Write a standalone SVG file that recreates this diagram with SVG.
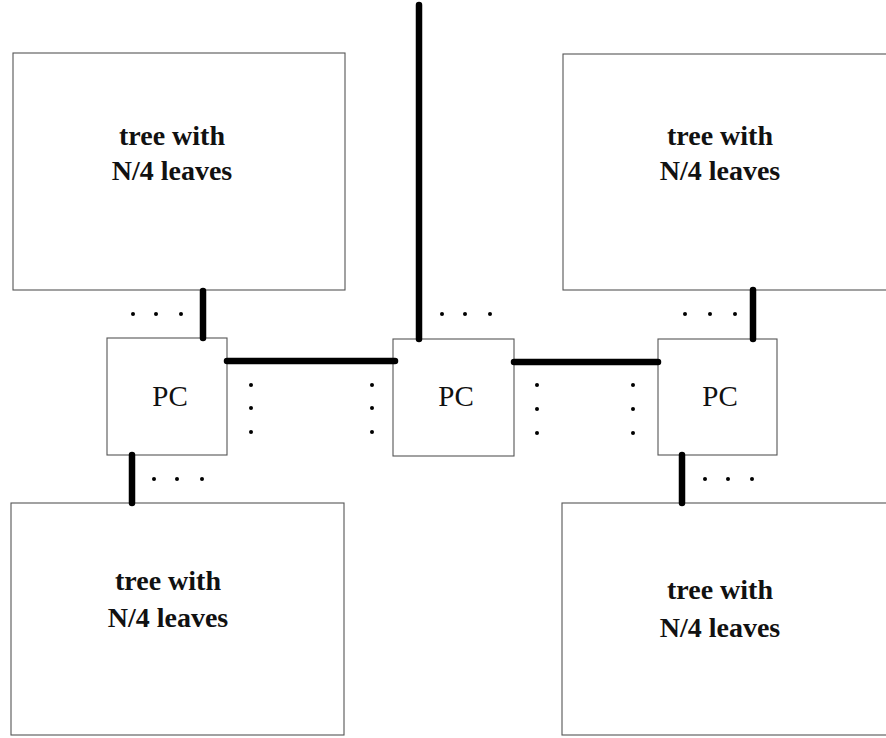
<svg xmlns="http://www.w3.org/2000/svg" width="886" height="738" viewBox="0 0 886 738">
<style>
.box{fill:none;stroke:#555;stroke-width:1.1}
.t{font-family:"Liberation Serif",serif;font-size:28px;font-weight:bold;text-anchor:middle;fill:#111}
.pc{font-family:"Liberation Serif",serif;font-size:29px;text-anchor:middle;fill:#111}
.w{stroke:#000;stroke-width:6.5;stroke-linecap:round;fill:none}
.d{fill:#000}
</style>
<rect width="886" height="738" fill="#fff"/>
<g id="tree-tl"><rect class="box" x="13" y="53" width="332" height="237"/><text class="t" x="172" y="145">tree with</text><text class="t" x="172" y="180">N/4 leaves</text></g>
<g id="tree-tr"><rect class="box" x="563" y="54" width="340" height="236"/><text class="t" x="720" y="145">tree with</text><text class="t" x="720" y="180">N/4 leaves</text></g>
<g id="tree-bl"><rect class="box" x="11" y="503" width="333" height="232"/><text class="t" x="168" y="590">tree with</text><text class="t" x="168" y="627">N/4 leaves</text></g>
<g id="tree-br"><rect class="box" x="562" y="503" width="340" height="232"/><text class="t" x="720" y="599">tree with</text><text class="t" x="720" y="637">N/4 leaves</text></g>
<g id="pc-left"><rect class="box" x="107" y="338" width="120" height="117"/><text class="pc" x="170" y="406">PC</text></g>
<g id="pc-center"><rect class="box" x="393" y="339" width="121" height="117"/><text class="pc" x="456" y="406">PC</text></g>
<g id="pc-right"><rect class="box" x="658" y="339" width="119" height="116"/><text class="pc" x="720" y="406">PC</text></g>
<g id="connectors">
<line class="w" x1="203" y1="291" x2="203" y2="338"/>
<line class="w" x1="132" y1="455" x2="132" y2="503"/>
<line class="w" x1="227" y1="361" x2="395" y2="361"/>
<line class="w" x1="419" y1="5" x2="419" y2="339"/>
<line class="w" x1="514" y1="362" x2="658" y2="362"/>
<line class="w" x1="753" y1="290" x2="753" y2="339"/>
<line class="w" x1="682" y1="455" x2="682" y2="503"/>
</g>
<g id="dots">
<circle class="d" cx="133" cy="314" r="2"/><circle class="d" cx="156" cy="314" r="2"/><circle class="d" cx="181" cy="314" r="2"/>
<circle class="d" cx="154" cy="479" r="2"/><circle class="d" cx="177" cy="479" r="2"/><circle class="d" cx="202" cy="479" r="2"/>
<circle class="d" cx="442" cy="314" r="2"/><circle class="d" cx="465" cy="314" r="2"/><circle class="d" cx="490" cy="314" r="2"/>
<circle class="d" cx="685" cy="314" r="2"/><circle class="d" cx="710" cy="314" r="2"/><circle class="d" cx="735" cy="314" r="2"/>
<circle class="d" cx="705" cy="479" r="2"/><circle class="d" cx="728" cy="479" r="2"/><circle class="d" cx="752" cy="479" r="2"/>
<circle class="d" cx="251" cy="385" r="2"/><circle class="d" cx="251" cy="408" r="2"/><circle class="d" cx="251" cy="432" r="2"/>
<circle class="d" cx="372" cy="385" r="2"/><circle class="d" cx="372" cy="408" r="2"/><circle class="d" cx="372" cy="432" r="2"/>
<circle class="d" cx="537" cy="385" r="2"/><circle class="d" cx="537" cy="409" r="2"/><circle class="d" cx="537" cy="433" r="2"/>
<circle class="d" cx="633" cy="385" r="2"/><circle class="d" cx="633" cy="409" r="2"/><circle class="d" cx="633" cy="433" r="2"/>
</g>
</svg>
